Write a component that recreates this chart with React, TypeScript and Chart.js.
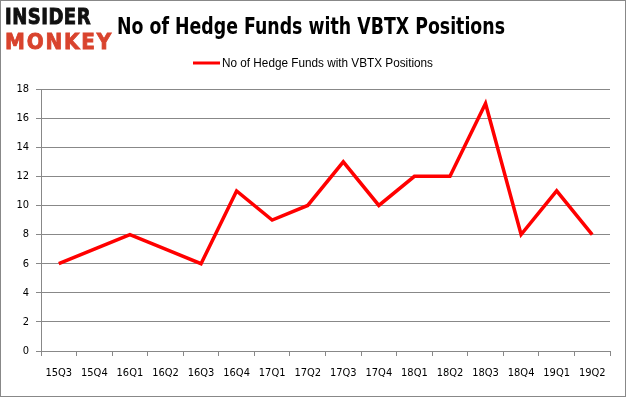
import React, { useEffect, useRef } from "react";
import { Chart, registerables } from "chart.js";

Chart.register(...registerables);

const categories = ["15Q3","15Q4","16Q1","16Q2","16Q3","16Q4","17Q1","17Q2","17Q3","17Q4","18Q1","18Q2","18Q3","18Q4","19Q1","19Q2"];
const hedgeFunds = [6,7,8,7,6,11,9,10,13,10,12,12,17,8,11,8];
const seriesLabel = "No of Hedge Funds with VBTX Positions";
const chartTitle = "No of Hedge Funds with VBTX Positions";

function fittedText(ctx: CanvasRenderingContext2D, text: string, font: string, x: number, baseline: number, width: number, color: string) {
  ctx.save();
  ctx.font = font;
  ctx.fillStyle = color;
  ctx.textBaseline = "alphabetic";
  ctx.textAlign = "left";
  const w = ctx.measureText(text).width;
  ctx.translate(x, baseline);
  ctx.scale(width / w, 1);
  ctx.fillText(text, 0, 0);
  ctx.restore();
}

const headerPlugin = {
  id: "header",
  afterDraw(chart: any) {
    const ctx: CanvasRenderingContext2D = chart.ctx;
    fittedText(ctx, chartTitle, "bold 23px 'Liberation Sans Narrow', 'DejaVu Sans Condensed', 'Liberation Sans', sans-serif", 117, 34, 388, "#000");
    const ds = chart.data.datasets[0];
    ctx.save();
    ctx.strokeStyle = ds.borderColor;
    ctx.lineWidth = 3;
    ctx.beginPath();
    ctx.moveTo(193, 63);
    ctx.lineTo(220, 63);
    ctx.stroke();
    ctx.restore();
    fittedText(ctx, ds.label, "12px 'Liberation Sans', sans-serif", 222, 67, 211, "#000");
  },
};

export default function App() {
  const ref = useRef<HTMLCanvasElement | null>(null);
  useEffect(() => {
    document.body.style.margin = "0";
    const ctx = ref.current!;
    const chart = new Chart(ctx, {
      type: "line",
      data: {
        labels: categories,
        datasets: [{
          label: seriesLabel,
          data: hedgeFunds,
          borderColor: "#ff0000",
          backgroundColor: "#ff0000",
          borderWidth: 3.5,
          pointRadius: 0,
          tension: 0,
        }],
      },
      plugins: [headerPlugin],
      options: {
        responsive: false,
        animation: false,
        layout: { padding: { left: 0, right: 16, top: 89, bottom: 0 } },
        plugins: {
          title: { display: false },
          legend: { display: false },
          tooltip: { enabled: false },
        },
        scales: {
          x: {
            offset: true,
            grid: { offset: true, drawOnChartArea: false, tickLength: 5, color: "#888" },
            border: { color: "#888" },
            ticks: { color: "#000", padding: 11, maxRotation: 0, autoSkip: false,
              font: { family: "'DejaVu Sans Condensed', 'Liberation Sans', sans-serif", size: 11 } },
            afterFit: (s: any) => { s.height = 46; },
          },
          y: {
            min: 0,
            max: 18,
            ticks: { stepSize: 2, color: "#000", padding: 7,
              font: { family: "'DejaVu Sans Condensed', 'Liberation Sans', sans-serif", size: 11 } },
            grid: { color: "#888", tickLength: 5 },
            border: { color: "#888" },
            afterFit: (s: any) => { s.width = 41; },
          },
        },
      },
    });
    return () => chart.destroy();
  }, []);
  const logoFont = { fontFamily: "'DejaVu Sans', sans-serif", fontWeight: 700, lineHeight: 1, whiteSpace: "nowrap" as const, position: "absolute" as const, left: 5, transformOrigin: "left top" };
  return (
    <div style={{ position: "relative", width: 626, height: 397, background: "#fff" }}>
      <canvas ref={ref} width={626} height={397} style={{ position: "absolute", left: 0, top: 0 }} />
      <div style={{ ...logoFont, top: 5.5, color: "#111", fontSize: 18, letterSpacing: 0.5, transform: "scaleY(1.22)", WebkitTextStroke: "0.8px #111" }}>INSIDER</div>
      <div style={{ ...logoFont, top: 29.5, color: "#d9432d", fontSize: 20, letterSpacing: 1.8, transform: "scaleY(1.1)", WebkitTextStroke: "0.8px #d9432d" }}>MONKEY</div>
      <div style={{ position: "absolute", left: 0, top: 0, width: 626, height: 397, boxSizing: "border-box", border: "1px solid #888", pointerEvents: "none" }} />
    </div>
  );
}
